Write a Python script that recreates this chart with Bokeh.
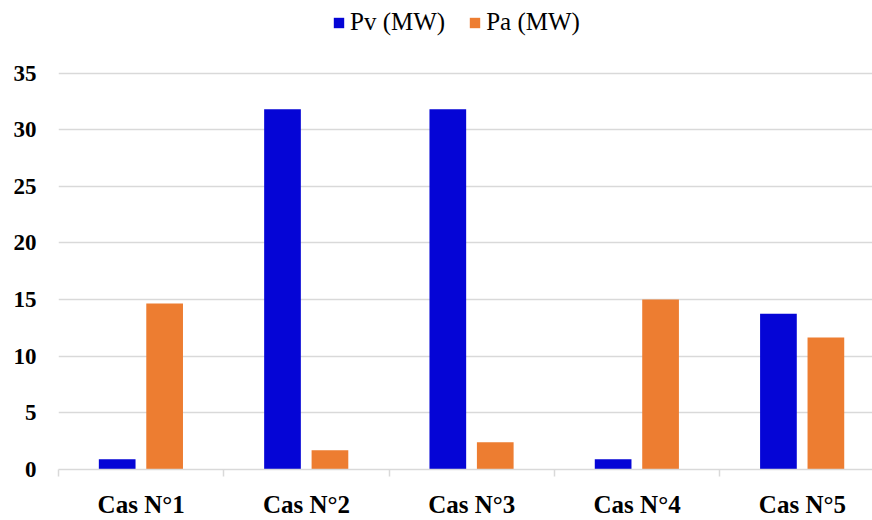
from bokeh.plotting import figure
from bokeh.models import (ColumnDataSource, Range1d, FixedTicker, Legend, LegendItem)
from bokeh.transform import dodge
from bokeh.embed import file_html
from bokeh.resources import INLINE
import numpy as np

categories = ["Cas N°1", "Cas N°2", "Cas N°3", "Cas N°4", "Cas N°5"]
pv_mw = [0.9, 31.8, 31.8, 0.9, 13.75]
pa_mw = [14.65, 1.7, 2.4, 15.0, 11.65]
y_ticks = [0, 5, 10, 15, 20, 25, 30, 35]

idx = np.arange(len(categories))
centers = (idx + 0.5).tolist()
bounds = list(range(len(categories) + 1))

src = ColumnDataSource(dict(x=centers, pv=pv_mw, pa=pa_mw, cat=categories))

# the frame reaches the top of the canvas so that the legend can sit above the 35 line
p = figure(width=872, height=520, output_backend="svg", toolbar_location=None,
           x_range=Range1d(0, 4.924), y_range=Range1d(0, 41.41),
           min_border_left=58, min_border_right=0, min_border_top=0, min_border_bottom=42)
p.outline_line_color = None
p.background_fill_color = "white"

r_pv = p.vbar(x=dodge("x", -0.145, range=p.x_range), top="pv", width=0.222, source=src,
              fill_color="#0505D6", line_color=None)
r_pa = p.vbar(x=dodge("x", 0.142, range=p.x_range), top="pa", width=0.222, source=src,
              fill_color="#ED7D31", line_color=None)

# x axis
p.xaxis.ticker = FixedTicker(ticks=centers, minor_ticks=bounds)
p.xaxis.major_label_overrides = {c: lab for c, lab in zip(centers, categories)}
p.xaxis.major_tick_line_color = None
p.xaxis.major_tick_out = 0
p.xaxis.major_tick_in = 0
p.xaxis.minor_tick_line_color = "#d9d9d9"
p.xaxis.minor_tick_line_width = 1.5
p.xaxis.minor_tick_out = 7
p.xaxis.minor_tick_in = 0
p.xaxis.axis_line_color = "#d9d9d9"
p.xaxis.axis_line_width = 1.5
p.xaxis.major_label_text_font = "Liberation Serif"
p.xaxis.major_label_text_font_style = "bold"
p.xaxis.major_label_text_font_size = "25px"
p.xaxis.major_label_text_color = "black"
p.xaxis.major_label_standoff = 14

# y axis
p.yaxis.ticker = FixedTicker(ticks=y_ticks)
p.yaxis.axis_line_color = None
p.yaxis.major_tick_line_color = None
p.yaxis.minor_tick_line_color = None
p.yaxis.major_tick_out = 0
p.yaxis.major_tick_in = 0
p.yaxis.major_label_standoff = 22
p.yaxis.major_label_text_font = "Liberation Serif"
p.yaxis.major_label_text_font_style = "bold"
p.yaxis.major_label_text_font_size = "23px"
p.yaxis.major_label_text_color = "black"

p.xgrid.grid_line_color = None
p.ygrid.grid_line_color = "#d9d9d9"
p.ygrid.grid_line_width = 1.5
p.ygrid.ticker = FixedTicker(ticks=y_ticks)

legend = Legend(items=[LegendItem(label="Pv (MW)", renderers=[r_pv]),
                       LegendItem(label="Pa (MW)", renderers=[r_pa])],
                orientation="horizontal", location=(274, 433),
                border_line_color=None, background_fill_alpha=0,
                label_text_font="Liberation Serif", label_text_font_style="normal",
                label_text_font_size="25px", label_text_color="black",
                glyph_width=13, glyph_height=13, spacing=23, label_standoff=5,
                padding=0, margin=0)
legend.label_text_font = "Liberation Serif"
p.add_layout(legend, "center")

open("out.html", "w").write(file_html(p, INLINE))
